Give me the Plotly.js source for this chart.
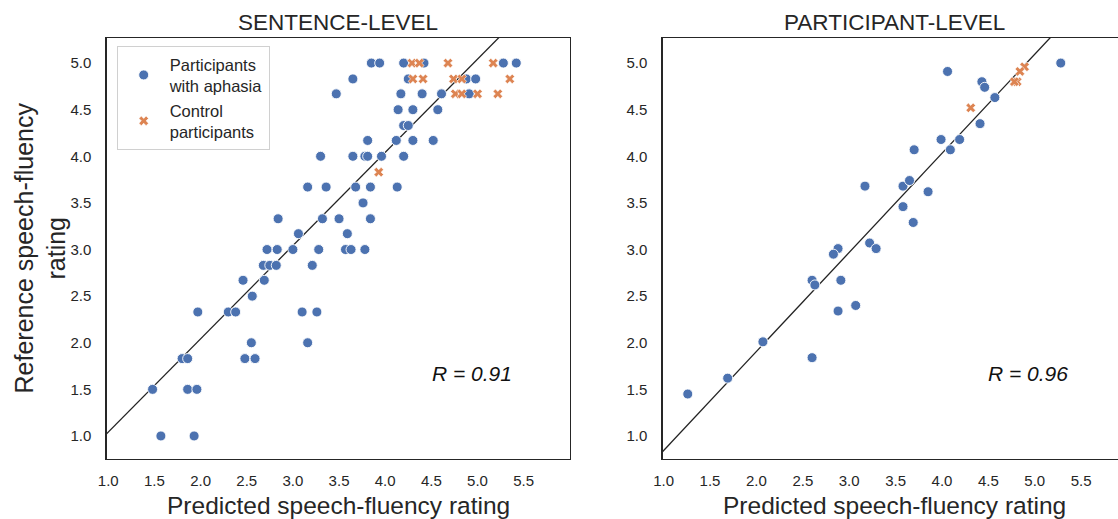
<!DOCTYPE html>
<html>
<head>
<meta charset="utf-8">
<script src="https://cdn.plot.ly/plotly-3.0.1.min.js"></script>
<style>
  html, body { margin: 0; padding: 0; background: #ffffff; overflow: hidden; }
  #chart { width: 1126px; height: 519px; }
</style>
</head>
<body>
<div id="chart"></div>
<script>
// ---------------- DATA ----------------
// Sentence-level: participants with aphasia
const sentAphasiaX = [3.85,3.94,4.20,4.42,5.28,5.42,
  3.65,4.25,4.88,4.98,
  3.47,4.17,4.40,4.61,4.91,
  4.14,4.30,4.57,
  4.20,4.25,
  3.81,4.12,4.30,4.52,
  3.30,3.65,3.78,3.81,3.96,4.20,
  3.16,3.36,3.68,3.84,4.13,
  3.76,
  2.84,3.32,3.50,3.84,
  3.06,3.59,
  2.72,2.83,3.00,3.28,3.57,3.63,3.78,
  2.68,2.75,2.82,3.21,
  2.46,2.69,
  2.56,
  1.97,2.30,2.38,3.10,3.26,
  2.55,3.16,
  1.80,1.86,2.48,2.59,
  1.48,1.86,1.96,
  1.57,1.93];
const sentAphasiaY = [5.00,5.00,5.00,5.00,5.00,5.00,
  4.83,4.83,4.83,4.83,
  4.67,4.67,4.67,4.67,4.67,
  4.50,4.50,4.50,
  4.33,4.33,
  4.17,4.17,4.17,4.17,
  4.00,4.00,4.00,4.00,4.00,4.00,
  3.67,3.67,3.67,3.67,3.67,
  3.50,
  3.33,3.33,3.33,3.33,
  3.17,3.17,
  3.00,3.00,3.00,3.00,3.00,3.00,3.00,
  2.83,2.83,2.83,2.83,
  2.67,2.67,
  2.50,
  2.33,2.33,2.33,2.33,2.33,
  2.00,2.00,
  1.83,1.83,1.83,1.83,
  1.50,1.50,1.50,
  1.00,1.00];
// Sentence-level: control participants
const sentControlX = [4.29,4.37,4.68,5.17, 4.30,4.41,4.74,4.83,5.35, 4.76,4.83,5.00,5.22, 3.93];
const sentControlY = [5.00,5.00,5.00,5.00, 4.83,4.83,4.83,4.83,4.83, 4.67,4.67,4.67,4.67, 3.83];

// Participant-level: participants with aphasia
const partAphasiaX = [5.28,4.06,4.43,4.46,4.57,4.41,3.99,4.19,3.70,4.09,3.17,3.58,3.65,3.85,3.58,3.69,
  2.88,2.83,3.22,3.29,2.60,2.63,2.91,2.88,3.07,2.07,2.60,1.69,1.26];
const partAphasiaY = [5.00,4.91,4.80,4.74,4.63,4.35,4.18,4.18,4.07,4.07,3.68,3.68,3.74,3.62,3.46,3.29,
  3.01,2.95,3.07,3.01,2.67,2.62,2.67,2.34,2.40,2.01,1.84,1.62,1.45];
// Participant-level: control participants
const partControlX = [4.89,4.84,4.81,4.78,4.31];
const partControlY = [4.96,4.91,4.80,4.80,4.52];

// Fitted lines (end points, clipped by the axes)
const sentLineX = [0.90, 5.40];
const sentLineY = [0.942, 5.442];
const partLineX = [0.90, 5.40];
const partLineY = [0.737, 5.520];

// Tick values / labels and texts
const xTickVals = [1.0,1.5,2.0,2.5,3.0,3.5,4.0,4.5,5.0,5.5];
const xTickText = ["1.0","1.5","2.0","2.5","3.0","3.5","4.0","4.5","5.0","5.5"];
const yTickVals = [1.0,1.5,2.0,2.5,3.0,3.5,4.0,4.5,5.0];
const yTickText = ["1.0","1.5","2.0","2.5","3.0","3.5","4.0","4.5","5.0"];
const panelTitles = ["SENTENCE-LEVEL", "PARTICIPANT-LEVEL"];
const rTexts = ["R = 0.91", "R = 0.96"];
const seriesNames = ["Participants<br>with aphasia", "Control<br>participants"];
const xTitle = "Predicted speech-fluency rating";
const yTitle = "Reference speech-fluency<br>rating";

// ---------------- STYLE ----------------
const BLUE = "#4C72B0";
const ORANGE = "#DD8452";
const INK = "#262626";
const FONT = "Arial, 'Liberation Sans', Helvetica, sans-serif";
const W = 1126;

const dotMarker = {color: BLUE, size: 10, symbol: "circle", line: {color: "#ffffff", width: 0.9}};
const xMarker = {color: ORANGE, size: 8.5, symbol: "x", line: {color: "#ffffff", width: 0.6}};
const lineStyle = {color: "#222222", width: 1.3};

const traces = [
  {x: sentLineX, y: sentLineY, mode: "lines", line: lineStyle, xaxis: "x", yaxis: "y", showlegend: false, hoverinfo: "skip"},
  {x: sentAphasiaX, y: sentAphasiaY, mode: "markers", marker: dotMarker, name: seriesNames[0], xaxis: "x", yaxis: "y", legendgroup: "a"},
  {x: sentControlX, y: sentControlY, mode: "markers", marker: xMarker, name: seriesNames[1], xaxis: "x", yaxis: "y", legendgroup: "c"},
  {x: partLineX, y: partLineY, mode: "lines", line: lineStyle, xaxis: "x2", yaxis: "y2", showlegend: false, hoverinfo: "skip"},
  {x: partAphasiaX, y: partAphasiaY, mode: "markers", marker: dotMarker, name: seriesNames[0], xaxis: "x2", yaxis: "y2", legendgroup: "a", showlegend: false},
  {x: partControlX, y: partControlY, mode: "markers", marker: xMarker, name: seriesNames[1], xaxis: "x2", yaxis: "y2", legendgroup: "c", showlegend: false}
];

function xAxis(domain, range, anchor) {
  return {
    domain: domain, range: range, anchor: anchor,
    tickvals: xTickVals, ticktext: xTickText,
    ticks: "outside", ticklen: 8, tickcolor: "rgba(0,0,0,0)",
    tickfont: {family: FONT, size: 15, color: INK},
    showgrid: false, zeroline: false,
    showline: true, mirror: true, linecolor: INK, linewidth: 1.3
  };
}
function yAxis(range, anchor) {
  return {
    domain: [0, 1], range: range, anchor: anchor,
    tickvals: yTickVals, ticktext: yTickText,
    ticks: "outside", ticklen: 11, tickcolor: "rgba(0,0,0,0)",
    tickfont: {family: FONT, size: 15, color: INK},
    showgrid: false, zeroline: false,
    showline: true, mirror: true, linecolor: INK, linewidth: 1.3
  };
}

const d1 = [106.7 / W, 570 / W];
const d2 = [662.7 / W, 1125.7 / W];

const layout = {
  width: W, height: 519,
  margin: {l: 0, r: 0, t: 38, b: 60},
  paper_bgcolor: "#ffffff", plot_bgcolor: "#ffffff",
  font: {family: FONT, color: INK},
  showlegend: true,
  legend: {
    x: 116.7 / W, y: 0.981, xanchor: "left", yanchor: "top",
    bgcolor: "#ffffff", bordercolor: "#d0d0d0", borderwidth: 1,
    font: {family: FONT, size: 16.5, color: INK},
    itemwidth: 42, tracegroupgap: 0
  },
  xaxis: xAxis(d1, [0.983, 6.002], "y"),
  yaxis: yAxis([0.753, 5.269], "x"),
  xaxis2: xAxis(d2, [0.99, 5.98], "y2"),
  yaxis2: yAxis([0.753, 5.269], "x2"),
  annotations: [
    {xref: "paper", yref: "paper", x: (d1[0] + d1[1]) / 2, y: 1, yshift: 16, yanchor: "middle", xanchor: "center",
     text: panelTitles[0], showarrow: false, font: {family: FONT, size: 22.5, color: INK}},
    {xref: "paper", yref: "paper", x: (d2[0] + d2[1]) / 2, y: 1, yshift: 16, yanchor: "middle", xanchor: "center",
     text: panelTitles[1], showarrow: false, font: {family: FONT, size: 22.5, color: INK}},
    {xref: "paper", yref: "paper", x: (d1[0] + d1[1]) / 2, y: 0, yshift: -46, yanchor: "middle", xanchor: "center",
     borderpad: 0, text: xTitle, showarrow: false, font: {family: FONT, size: 24.5, color: INK}},
    {xref: "paper", yref: "paper", x: (d2[0] + d2[1]) / 2, y: 0, yshift: -46, yanchor: "middle", xanchor: "center",
     borderpad: 0, text: xTitle, showarrow: false, font: {family: FONT, size: 24.5, color: INK}},
    {xref: "paper", yref: "paper", x: 40 / W, y: 0.5, xanchor: "center", yanchor: "middle", textangle: -90,
     text: yTitle, showarrow: false, font: {family: FONT, size: 25, color: INK}},
    {xref: "x", yref: "y", x: 4.937, y: 1.675, xanchor: "center", yanchor: "middle",
     text: "<i>" + rTexts[0] + "</i>", showarrow: false, font: {family: FONT, size: 21, color: "#111111"}},
    {xref: "x2", yref: "y2", x: 4.928, y: 1.675, xanchor: "center", yanchor: "middle",
     text: "<i>" + rTexts[1] + "</i>", showarrow: false, font: {family: FONT, size: 21, color: "#111111"}}
  ]
};

Plotly.newPlot("chart", traces, layout, {staticPlot: true, displayModeBar: false});
</script>
</body>
</html>
